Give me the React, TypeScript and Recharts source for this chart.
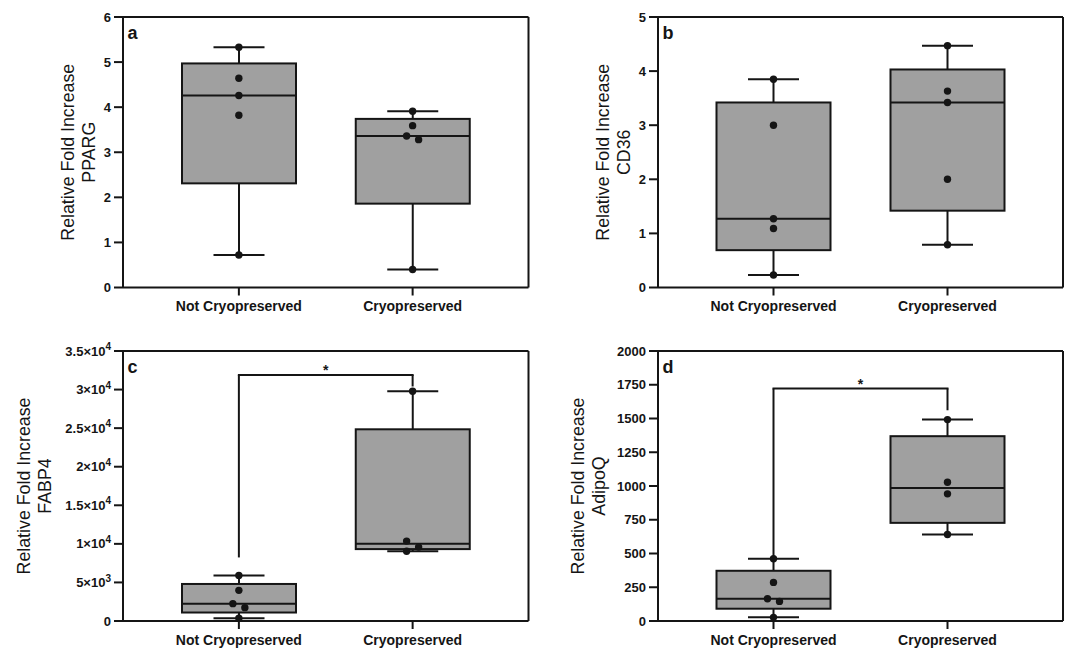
import React from "react";
import { ComposedChart, Bar, Scatter, XAxis, YAxis, ReferenceLine } from "recharts";

const groups = ["Not Cryopreserved", "Cryopreserved"];

// a - PPARG
const ppargMin = [0.72, 0.4];
const ppargQ1 = [2.31, 1.86];
const ppargMedian = [4.26, 3.36];
const ppargQ3 = [4.97, 3.74];
const ppargMax = [5.33, 3.91];
const ppargPoints = [
  [5.33, 4.64, 4.26, 3.82, 0.72],
  [3.91, 3.59, 3.36, 3.28, 0.4],
];
const ppargTicks = [0, 1, 2, 3, 4, 5, 6];

// b - CD36
const cd36Min = [0.23, 0.79];
const cd36Q1 = [0.69, 1.42];
const cd36Median = [1.27, 3.42];
const cd36Q3 = [3.42, 4.03];
const cd36Max = [3.85, 4.47];
const cd36Points = [
  [3.85, 3.0, 1.27, 1.09, 0.23],
  [4.47, 3.63, 3.42, 2.0, 0.79],
];
const cd36Ticks = [0, 1, 2, 3, 4, 5];

// c - FABP4
const fabp4Min = [350, 9050];
const fabp4Q1 = [1100, 9320];
const fabp4Median = [2250, 10000];
const fabp4Q3 = [4800, 24850];
const fabp4Max = [5910, 29780];
const fabp4Points = [
  [5910, 3970, 2250, 1730, 350],
  [29780, 10360, 9580, 9050],
];
const fabp4Ticks = [0, 5000, 10000, 15000, 20000, 25000, 30000, 35000];
const fabp4Bracket = [31900, 8240, 30400]; // bar, left end, right end

// d - AdipoQ
const adipoqMin = [27, 641];
const adipoqQ1 = [91, 727];
const adipoqMedian = [165, 986];
const adipoqQ3 = [372, 1369];
const adipoqMax = [461, 1492];
const adipoqPoints = [
  [461, 286, 165, 145, 27],
  [1492, 1028, 942, 641],
];
const adipoqTicks = [0, 250, 500, 750, 1000, 1250, 1500, 1750, 2000];
const adipoqBracket = [1722, 464, 1561];

const INK = "#151515";
const BOX = "#a0a0a0";
const FONT = "'Liberation Sans', Arial, sans-serif";

// nudge dots sideways when they would overlap (alternating left/right)
function spread(points: number[], domainMax: number) {
  const near = domainMax * 0.03;
  const dx = points.map(() => 0);
  let i = 0;
  while (i < points.length) {
    let j = i;
    while (j + 1 < points.length && Math.abs(points[j] - points[j + 1]) < near) j++;
    if (j > i) {
      for (let k = i; k <= j; k++) dx[k] = (k - i) % 2 === 0 ? -6 : 6;
    }
    i = j + 1;
  }
  return dx;
}

function buildRows(
  min: number[], q1: number[], median: number[], q3: number[], max: number[],
  points: number[][], domainMax: number
) {
  return groups.map((group, i) => {
    const row: any = { group, min: min[i], q1: q1[i], median: median[i], q3: q3[i], max: max[i] };
    const dx = spread(points[i], domainMax);
    points[i].forEach((v, j) => {
      row[`p${j}`] = v;
      row[`dx${j}`] = dx[j];
    });
    return row;
  });
}

const BoxShape = (props: any) => {
  const { x, y, width, height, payload } = props;
  const top = Math.min(y, y + height);
  const h = Math.abs(height);
  const unit = h / (payload.q3 - payload.q1);
  const py = (v: number) => top + (payload.q3 - v) * unit;
  const cx = x + width / 2;
  const cap = 25.5;
  return (
    <g stroke={INK} strokeWidth={2}>
      <line x1={cx} x2={cx} y1={py(payload.max)} y2={top} />
      <line x1={cx} x2={cx} y1={top + h} y2={py(payload.min)} />
      <line x1={cx - cap} x2={cx + cap} y1={py(payload.max)} y2={py(payload.max)} />
      <line x1={cx - cap} x2={cx + cap} y1={py(payload.min)} y2={py(payload.min)} />
      <rect x={x} y={top} width={width} height={h} fill={BOX} />
      <line x1={x} x2={x + width} y1={py(payload.median)} y2={py(payload.median)} />
    </g>
  );
};

const dotShape = (j: number) => (props: any) => {
  const { cx, cy, payload } = props;
  if (payload == null || payload[`p${j}`] == null || !isFinite(cy)) return <g />;
  return <circle cx={cx + (payload[`dx${j}`] || 0)} cy={cy} r={3.7} fill={INK} />;
};

const SciTick = (props: any) => {
  const { x, y, payload } = props;
  const v = payload.value;
  const style = { fontSize: 13, fontWeight: 700, fill: INK, fontFamily: FONT };
  if (v === 0) {
    return <text x={x} y={y} dy="0.355em" textAnchor="end" {...style}>0</text>;
  }
  const exp = Math.floor(Math.log10(v));
  const mant = v / Math.pow(10, exp);
  return (
    <text x={x} y={y} dy="0.355em" textAnchor="end" {...style}>
      {`${mant}×10`}
      <tspan dy={-5.5} fontSize={10}>{exp}</tspan>
    </text>
  );
};

interface PanelProps {
  letter: string;
  gene: string;
  rows: any[];
  ticks: number[];
  left: number;
  top: number;
  width: number;
  height: number;
  margin: { top: number; right: number; bottom: number; left: number };
  yAxisWidth: number;
  xAxisHeight: number;
  titleX: number;
  padding: number;
  sci?: boolean;
  bracket?: number[];
}

const Panel = (p: PanelProps) => {
  const domainMax = p.ticks[p.ticks.length - 1];
  const maxPoints = 5;
  return (
    <div style={{ position: "absolute", left: p.left, top: p.top }}>
      <ComposedChart width={p.width} height={p.height} data={p.rows} margin={p.margin}>
        <XAxis
          dataKey="group"
          type="category"
          padding={{ left: p.padding, right: p.padding }}
          height={p.xAxisHeight}
          tickSize={8}
          tickMargin={6}
          axisLine={{ stroke: INK, strokeWidth: 2 }}
          tickLine={{ stroke: INK, strokeWidth: 2 }}
          tick={{ fontSize: 14, fontWeight: 700, fill: INK, fontFamily: FONT }}
        />
        <YAxis
          type="number"
          domain={[0, domainMax]}
          ticks={p.ticks}
          interval={0}
          width={p.yAxisWidth}
          tickSize={9}
          tickMargin={3}
          axisLine={{ stroke: INK, strokeWidth: 2 }}
          tickLine={{ stroke: INK, strokeWidth: 2 }}
          tick={p.sci ? <SciTick /> : { fontSize: 13, fontWeight: 700, fill: INK, fontFamily: FONT }}
          label={(lp: any) => {
            const cy = lp.viewBox.y + lp.viewBox.height / 2;
            const bx = p.titleX;
            return (
              <text
                transform={`rotate(-90, ${bx}, ${cy})`}
                textAnchor="middle"
                fontSize={17.8}
                fill={INK}
                fontFamily={FONT}
              >
                <tspan x={bx} y={cy}>Relative Fold Increase</tspan>
                <tspan x={bx} dy={20.5}>{p.gene}</tspan>
              </text>
            );
          }}
        />
        <YAxis
          yAxisId="right"
          orientation="right"
          type="number"
          domain={[0, domainMax]}
          width={1}
          tick={false}
          tickLine={false}
          axisLine={{ stroke: INK, strokeWidth: 2 }}
        />
        <Bar
          dataKey={(d: any) => [d.q1, d.q3]}
          barSize={114}
          shape={BoxShape}
          isAnimationActive={false}
        />
        {Array.from({ length: maxPoints }, (_, j) => (
          <Scatter
            key={j}
            dataKey={`p${j}`}
            shape={dotShape(j)}
            isAnimationActive={false}
          />
        ))}
        {/* keeps the right-hand frame axis in use */}
        <Scatter
          yAxisId="right"
          dataKey="p0"
          shape={() => <g />}
          isAnimationActive={false}
        />
        {/* top edge of the frame, with the panel letter */}
        <ReferenceLine
          y={domainMax}
          stroke={INK}
          strokeWidth={2}
          label={(lp: any) => (
            <text
              x={lp.viewBox.x + 4.5}
              y={lp.viewBox.y + 22}
              fontSize={18}
              fontWeight={700}
              fill={INK}
              fontFamily={FONT}
            >
              {p.letter}
            </text>
          )}
        />
        {p.bracket && (
          <ReferenceLine
            segment={[{ x: groups[0], y: p.bracket[0] }, { x: groups[1], y: p.bracket[0] }]}
            stroke={INK}
            strokeWidth={2}
            strokeLinecap="square"
            label={(lp: any) => (
              <text
                x={lp.viewBox.x + lp.viewBox.width / 2}
                y={lp.viewBox.y + 0.5}
                textAnchor="middle"
                fontSize={14}
                fontWeight={700}
                fill={INK}
                fontFamily={FONT}
              >
                *
              </text>
            )}
          />
        )}
        {p.bracket && (
          <ReferenceLine
            segment={[{ x: groups[0], y: p.bracket[0] }, { x: groups[0], y: p.bracket[1] }]}
            stroke={INK}
            strokeWidth={2}
          />
        )}
        {p.bracket && (
          <ReferenceLine
            segment={[{ x: groups[1], y: p.bracket[0] }, { x: groups[1], y: p.bracket[2] }]}
            stroke={INK}
            strokeWidth={2}
          />
        )}
      </ComposedChart>
    </div>
  );
};

export default function App() {
  const pparg = buildRows(ppargMin, ppargQ1, ppargMedian, ppargQ3, ppargMax, ppargPoints, 6);
  const cd36 = buildRows(cd36Min, cd36Q1, cd36Median, cd36Q3, cd36Max, cd36Points, 5);
  const fabp4 = buildRows(fabp4Min, fabp4Q1, fabp4Median, fabp4Q3, fabp4Max, fabp4Points, 35000);
  const adipoq = buildRows(adipoqMin, adipoqQ1, adipoqMedian, adipoqQ3, adipoqMax, adipoqPoints, 2000);

  return (
    <div
      style={{
        position: "absolute",
        left: 0,
        top: 0,
        width: 1066,
        height: 648,
        background: "#fff",
        fontFamily: FONT,
      }}
    >
      <Panel
        letter="a" gene="PPARG" rows={pparg} ticks={ppargTicks}
        left={0} top={0} width={545} height={320}
        margin={{ top: 17, right: 15.5, bottom: 0, left: 0 }}
        yAxisWidth={123} xAxisHeight={32.5} titleX={74} padding={29}
      />
      <Panel
        letter="b" gene="CD36" rows={cd36} ticks={cd36Ticks}
        left={540} top={0} width={526} height={320}
        margin={{ top: 17, right: 2, bottom: 0, left: 0 }}
        yAxisWidth={118} xAxisHeight={32.5} titleX={69} padding={28.5}
      />
      <Panel
        letter="c" gene="FABP4" rows={fabp4} ticks={fabp4Ticks}
        left={0} top={330} width={545} height={318}
        margin={{ top: 21, right: 15.5, bottom: 0, left: 0 }}
        yAxisWidth={123} xAxisHeight={27} titleX={30} padding={29}
        sci bracket={fabp4Bracket}
      />
      <Panel
        letter="d" gene="AdipoQ" rows={adipoq} ticks={adipoqTicks}
        left={540} top={330} width={526} height={318}
        margin={{ top: 21, right: 2, bottom: 0, left: 0 }}
        yAxisWidth={118} xAxisHeight={27} titleX={44} padding={28.5}
        bracket={adipoqBracket}
      />
    </div>
  );
}
